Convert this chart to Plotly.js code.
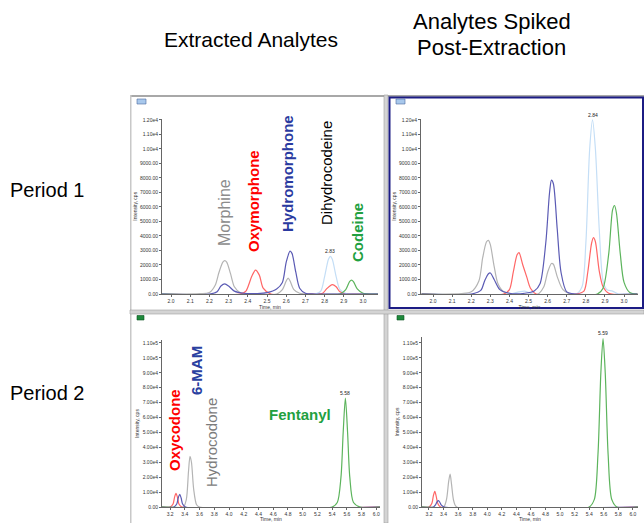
<!DOCTYPE html>
<html>
<head>
<meta charset="utf-8">
<script src="https://cdn.plot.ly/plotly-3.0.1.min.js"></script>
<style>html,body{margin:0;padding:0;background:#fff;}#chart{width:644px;height:523px;}</style>
</head>
<body>
<div id="chart"></div>
<script>
// ---- Period 1, extracted analytes (top-left) ----
const p1eGrayX  = [1.95, 2.15, 2.20, 2.23, 2.25, 2.27, 2.28, 2.29, 2.31, 2.33, 2.36, 2.40, 2.55, 2.58, 2.60, 2.61, 2.62, 2.64, 2.67, 2.75, 3.08];
const p1eGrayY  = [0, 20, 100, 600, 1500, 2200, 2300, 2200, 1400, 500, 100, 0, 0, 300, 900, 1100, 900, 300, 50, 0, 0];
const p1eBlueX  = [1.95, 2.20, 2.24, 2.26, 2.28, 2.30, 2.33, 2.38, 2.45, 2.50, 2.55, 2.58, 2.60, 2.62, 2.63, 2.65, 2.67, 2.70, 2.75, 3.08];
const p1eBlueY  = [0, 0, 150, 550, 700, 550, 200, 50, 30, 100, 350, 800, 2200, 2950, 2800, 1500, 400, 50, 0, 0];
const p1eRedX   = [1.95, 2.36, 2.39, 2.42, 2.44, 2.46, 2.48, 2.52, 2.75, 2.79, 2.81, 2.84, 2.86, 2.88, 2.92, 3.08];
const p1eRedY   = [0, 0, 200, 1200, 1650, 1300, 400, 0, 0, 50, 350, 650, 500, 150, 0, 0];
const p1eLBlueX = [1.95, 2.75, 2.78, 2.80, 2.82, 2.83, 2.84, 2.86, 2.88, 2.92, 3.08];
const p1eLBlueY = [0, 0, 200, 1200, 2400, 2600, 2400, 1200, 300, 0, 0];
const p1eGreenX = [1.95, 2.88, 2.91, 2.93, 2.94, 2.95, 2.97, 3.00, 3.08];
const p1eGreenY = [0, 0, 300, 850, 950, 850, 350, 50, 0];

// ---- Period 1, spiked post-extraction (top-right) ----
const p1sGrayX  = [1.94, 2.15, 2.20, 2.24, 2.26, 2.28, 2.29, 2.30, 2.32, 2.34, 2.37, 2.42, 2.55, 2.58, 2.60, 2.62, 2.63, 2.65, 2.68, 2.72, 3.07];
const p1sGrayY  = [0, 30, 150, 900, 2500, 3600, 3700, 3400, 1900, 700, 150, 0, 0, 500, 1500, 2100, 2050, 1200, 300, 0, 0];
const p1sBlueX  = [1.94, 2.20, 2.25, 2.27, 2.29, 2.30, 2.32, 2.35, 2.40, 2.48, 2.53, 2.56, 2.59, 2.61, 2.62, 2.63, 2.65, 2.67, 2.70, 2.75, 3.07];
const p1sBlueY  = [0, 0, 250, 900, 1400, 1450, 1000, 300, 50, 50, 200, 700, 3500, 7000, 7850, 7600, 4500, 1500, 150, 0, 0];
const p1sRedX   = [1.94, 2.37, 2.40, 2.42, 2.44, 2.45, 2.47, 2.49, 2.51, 2.54, 2.75, 2.79, 2.81, 2.83, 2.84, 2.85, 2.87, 2.89, 2.92, 3.07];
const p1sRedY   = [0, 0, 300, 1500, 2700, 2850, 2000, 1200, 400, 0, 0, 200, 1500, 3500, 3880, 3600, 1600, 500, 50, 0];
const p1sLBlueX = [1.94, 2.40, 2.45, 2.48, 2.52, 2.75, 2.78, 2.80, 2.82, 2.835, 2.85, 2.87, 2.89, 2.91, 2.94, 2.97, 3.07];
const p1sLBlueY = [0, 0, 150, 200, 0, 0, 500, 3500, 10000, 12000, 10000, 4500, 900, 300, 200, 0, 0];
const p1sGreenX = [1.94, 2.86, 2.89, 2.92, 2.94, 2.95, 2.96, 2.98, 3.00, 3.03, 3.07];
const p1sGreenY = [0, 0, 400, 2800, 5800, 6100, 5600, 2800, 800, 100, 0];

// ---- Period 2, extracted analytes (bottom-left) ----
const p2eRedX   = [3.09, 3.20, 3.24, 3.26, 3.28, 3.30, 3.32, 3.36, 6.05];
const p2eRedY   = [0, 0, 2000, 6500, 9200, 6500, 2000, 0, 0];
const p2eBlueX  = [3.09, 3.25, 3.29, 3.31, 3.33, 3.35, 3.37, 3.41, 6.05];
const p2eBlueY  = [0, 0, 2000, 6000, 8500, 6000, 2000, 0, 0];
const p2eGrayX  = [3.09, 3.38, 3.42, 3.45, 3.47, 3.49, 3.52, 3.56, 3.60, 6.05];
const p2eGrayY  = [0, 0, 5000, 24000, 34000, 30000, 12000, 1500, 0, 0];
const p2eGreenX = [3.09, 5.40, 5.47, 5.52, 5.55, 5.58, 5.61, 5.64, 5.69, 5.78, 6.05];
const p2eGreenY = [0, 0, 3000, 20000, 50000, 73000, 50000, 20000, 3000, 0, 0];

// ---- Period 2, spiked post-extraction (bottom-right) ----
const p2sRedX   = [3.10, 3.20, 3.24, 3.26, 3.28, 3.30, 3.32, 3.36, 6.07];
const p2sRedY   = [0, 0, 2500, 7500, 10500, 7000, 2500, 0, 0];
const p2sBlueX  = [3.10, 3.26, 3.29, 3.31, 3.33, 3.35, 3.37, 3.41, 6.07];
const p2sBlueY  = [0, 0, 1500, 3500, 4300, 3000, 1200, 0, 0];
const p2sGrayX  = [3.10, 3.40, 3.44, 3.47, 3.49, 3.51, 3.54, 3.58, 6.07];
const p2sGrayY  = [0, 0, 5000, 17000, 22000, 15000, 4000, 0, 0];
const p2sGreenX = [3.10, 5.40, 5.47, 5.52, 5.56, 5.59, 5.62, 5.66, 5.71, 5.78, 6.07];
const p2sGreenY = [0, 0, 5000, 35000, 90000, 113000, 90000, 35000, 5000, 0, 0];

// ---- tick labels ----
const p1TickVals = [0,1000,2000,3000,4000,5000,6000,7000,8000,9000,10000,11000,12000];
const p1TickText = ["0.00","1000.00","2000.00","3000.00","4000.00","5000.00","6000.00","7000.00","8000.00","9000.00","1.00e4","1.10e4","1.20e4"];
const p2TickVals = [0,10000,20000,30000,40000,50000,60000,70000,80000,90000,100000,110000];
const p2TickText = ["0.00","1.00e4","2.00e4","3.00e4","4.00e4","5.00e4","6.00e4","7.00e4","8.00e4","9.00e4","1.00e5","1.10e5"];
const p1XTicks = [2.0,2.1,2.2,2.3,2.4,2.5,2.6,2.7,2.8,2.9,3.0];
const p2XTicks = [3.2,3.4,3.6,3.8,4.0,4.2,4.4,4.6,4.8,5.0,5.2,5.4,5.6,5.8,6.0];

// ---- labels ----
const colHeaderLeft = "Extracted Analytes";
const colHeaderRight = ["Analytes Spiked", "Post-Extraction"];
const rowHeaders = ["Period 1", "Period 2"];
const xTitle = "Time, min";
const yTitle = "Intensity, cps";
const peakTags = [
  {text:"2.83", x:2.83, y:2600, ax:"x", ay:"y"},
  {text:"2.84", x:2.835, y:12000, ax:"x2", ay:"y2"},
  {text:"5.58", x:5.58, y:73000, ax:"x3", ay:"y3"},
  {text:"5.59", x:5.59, y:113000, ax:"x4", ay:"y4"}
];

const W = 644, H = 523;
const px = v => v / W;
const py = v => 1 - v / H;

const C = {gray:'#b4b4b4', blue:'#5a5ab4', red:'#ff6666', lblue:'#c4def6', green:'#5cb45c'};
function tr(x, y, color, xa, ya) {
  return {x:x, y:y, type:'scatter', mode:'lines', xaxis:xa, yaxis:ya,
          line:{color:color, width:1.2, shape:'spline', smoothing:0.8}, hoverinfo:'skip'};
}
const data = [
  tr(p1eGrayX, p1eGrayY, C.gray, 'x', 'y'),
  tr(p1eRedX, p1eRedY, C.red, 'x', 'y'),
  tr(p1eLBlueX, p1eLBlueY, C.lblue, 'x', 'y'),
  tr(p1eGreenX, p1eGreenY, C.green, 'x', 'y'),
  tr(p1eBlueX, p1eBlueY, C.blue, 'x', 'y'),
  tr(p1sGrayX, p1sGrayY, C.gray, 'x2', 'y2'),
  tr(p1sLBlueX, p1sLBlueY, C.lblue, 'x2', 'y2'),
  tr(p1sRedX, p1sRedY, C.red, 'x2', 'y2'),
  tr(p1sGreenX, p1sGreenY, C.green, 'x2', 'y2'),
  tr(p1sBlueX, p1sBlueY, C.blue, 'x2', 'y2'),
  tr(p2eGrayX, p2eGrayY, C.gray, 'x3', 'y3'),
  tr(p2eRedX, p2eRedY, C.red, 'x3', 'y3'),
  tr(p2eBlueX, p2eBlueY, C.blue, 'x3', 'y3'),
  tr(p2eGreenX, p2eGreenY, C.green, 'x3', 'y3'),
  tr(p2sGrayX, p2sGrayY, C.gray, 'x4', 'y4'),
  tr(p2sRedX, p2sRedY, C.red, 'x4', 'y4'),
  tr(p2sBlueX, p2sBlueY, C.blue, 'x4', 'y4'),
  tr(p2sGreenX, p2sGreenY, C.green, 'x4', 'y4')
];

const tickFont = {family:'Liberation Sans, Arial', size:5, color:'#333'};
function xax(dom, range, ticks, anchor, withTitle) {
  const a = {domain:dom, range:range, anchor:anchor, tickvals:ticks, ticktext:ticks.map(t=>t.toFixed(1)),
          showline:true, linecolor:'#666', linewidth:1, ticks:'outside', ticklen:2, tickcolor:'#666',
          tickfont:tickFont, showgrid:false, zeroline:false, fixedrange:true};
  if (withTitle) a.title = {text:xTitle, font:tickFont, standoff:2};
  return a;
}
function yax(dom, range, vals, text, anchor) {
  return {domain:dom, range:range, anchor:anchor, tickvals:vals, ticktext:text,
          showline:true, linecolor:'#666', linewidth:1, ticks:'outside', ticklen:2, tickcolor:'#666',
          tickfont:tickFont, showgrid:false, zeroline:false, fixedrange:true,
          title:{text:yTitle, font:tickFont, standoff:2}};
}

const topDom = [py(294), py(118.5)];
const layout = {
  width:W, height:H, margin:{l:0, r:0, t:0, b:0},
  paper_bgcolor:'#fff', plot_bgcolor:'rgba(0,0,0,0)', showlegend:false,
  font:{family:'Liberation Sans, Arial'},
  xaxis:  xax([px(162), px(378)], [1.953, 3.078], p1XTicks, 'y', true),
  yaxis:  yax(topDom, [0, 12100], p1TickVals, p1TickText, 'x'),
  xaxis2: xax([px(421), px(638)], [1.937, 3.073], p1XTicks, 'y2', true),
  yaxis2: yax(topDom, [0, 12100], p1TickVals, p1TickText, 'x2'),
  xaxis3: xax([px(162), px(380)], [3.09, 6.05], p2XTicks, 'y3', false),
  yaxis3: yax([py(507), py(340)], [0, 112000], p2TickVals, p2TickText, 'x3'),
  xaxis4: xax([px(422), px(638)], [3.104, 6.07], p2XTicks, 'y4', false),
  yaxis4: yax([py(507), py(337)], [0, 114000], p2TickVals, p2TickText, 'x4'),
  shapes: [
    // window frame lines
    {type:'rect', xref:'paper', yref:'paper', x0:px(130), x1:px(644), y0:py(97), y1:py(95), fillcolor:'#a8a8a8', line:{width:0}},
    {type:'rect', xref:'paper', yref:'paper', x0:px(130), x1:px(131.5), y0:py(523), y1:py(95), fillcolor:'#c8c8c8', line:{width:0}},
    {type:'rect', xref:'paper', yref:'paper', x0:px(384), x1:px(388), y0:py(523), y1:py(95), fillcolor:'#d4d4d4', line:{color:'#a0a0a0', width:0.6}},
    {type:'rect', xref:'paper', yref:'paper', x0:px(130), x1:px(644), y0:py(314), y1:py(310), fillcolor:'#d4d4d4', line:{color:'#a0a0a0', width:0.6}},
    // active panel border
    {type:'rect', xref:'paper', yref:'paper', x0:px(389.5), x1:px(643), y0:py(308), y1:py(97.5), fillcolor:'rgba(0,0,0,0)', line:{color:'#1c1c84', width:2}},
    // small panel icons
    {type:'rect', xref:'paper', yref:'paper', x0:px(137), x1:px(146), y0:py(104), y1:py(99), fillcolor:'#a8c8ec', line:{color:'#4a6aa0', width:0.6}},
    {type:'rect', xref:'paper', yref:'paper', x0:px(396), x1:px(405), y0:py(104), y1:py(99), fillcolor:'#a8c8ec', line:{color:'#4a6aa0', width:0.6}},
    {type:'rect', xref:'paper', yref:'paper', x0:px(137), x1:px(144), y0:py(320), y1:py(315.5), fillcolor:'#1e8a3c', line:{color:'#0c5020', width:0.6}},
    {type:'rect', xref:'paper', yref:'paper', x0:px(397), x1:px(404), y0:py(320), y1:py(315.5), fillcolor:'#1e8a3c', line:{color:'#0c5020', width:0.6}}
  ],
  annotations: []
};

function ann(text, x, y, color, size, bold, angle, yanchor) {
  return {text: bold ? '<b>'+text+'</b>' : text, xref:'paper', yref:'paper', x:px(x), y:py(y),
          xanchor:'center', yanchor:yanchor||'middle', showarrow:false, textangle:angle||0, borderpad:0,
          font:{family:'Liberation Sans, Arial', size:size, color:color}};
}
layout.annotations.push(ann(colHeaderLeft, 251, 40, '#000', 21, false));
layout.annotations.push(ann(colHeaderRight[0], 492, 22, '#000', 22, false));
layout.annotations.push(ann(colHeaderRight[1], 491, 48, '#000', 22, false));
layout.annotations.push(ann(rowHeaders[0], 47, 190, '#000', 20, false));
layout.annotations.push(ann(rowHeaders[1], 47, 393, '#000', 20, false));
layout.annotations.push(ann('Morphine', 225, 213, '#8c8c8c', 16, false, -90));
layout.annotations.push(ann('Oxymorphone', 254, 201, '#ff0000', 15, true, -90));
layout.annotations.push(ann('Hydromorphone', 288, 174, '#2a3aa0', 15, true, -90));
layout.annotations.push(ann('Dihydrocodeine', 327, 173, '#000', 15, false, -90));
layout.annotations.push(ann('Codeine', 357, 233, '#22a040', 15, true, -90));
layout.annotations.push(ann('Oxycodone', 174, 430, '#ff0000', 15, true, -90));
layout.annotations.push(ann('6-MAM', 196, 371, '#2a40a0', 15, true, -90));
layout.annotations.push(ann('Hydrocodone', 211, 443, '#7c7c7c', 15, false, -90));
layout.annotations.push(ann('Fentanyl', 300, 414, '#22a040', 15, true, 0));
// bottom-row x-axis titles at the lower edge
layout.annotations.push(ann(xTitle, 271, 523, '#333', 5, false, 0, 'bottom'));
layout.annotations.push(ann(xTitle, 530, 523, '#333', 5, false, 0, 'bottom'));
peakTags.forEach(p => layout.annotations.push({
  text:p.text, x:p.x, y:p.y, xref:p.ax, yref:p.ay, showarrow:false, yanchor:'bottom', xanchor:'center',
  yshift:0, font:{family:'Liberation Sans, Arial', size:5, color:'#222'}
}));

Plotly.newPlot('chart', data, layout, {displayModeBar:false, staticPlot:true});
</script>
</body>
</html>
